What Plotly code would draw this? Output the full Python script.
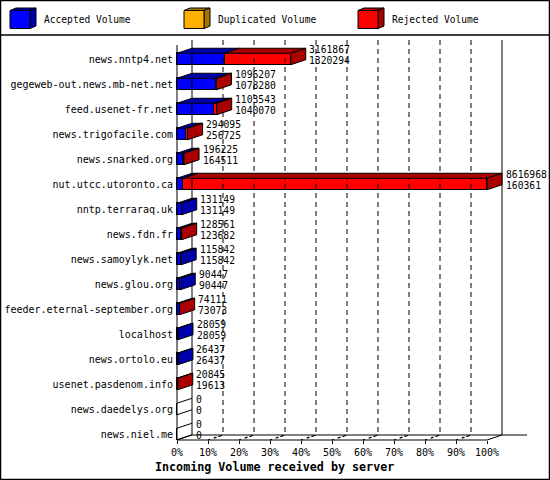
import plotly.graph_objects as go

# ---------------- data ----------------
servers = ["news.nntp4.net", "gegeweb-out.news.mb-net.net", "feed.usenet-fr.net",
           "news.trigofacile.com", "news.snarked.org", "nut.utcc.utoronto.ca",
           "nntp.terraraq.uk", "news.fdn.fr", "news.samoylyk.net", "news.glou.org",
           "feeder.eternal-september.org", "localhost", "news.ortolo.eu",
           "usenet.pasdenom.info", "news.daedelys.org", "news.niel.me"]
total_volume = [3161867, 1096207, 1103543, 294095, 196225, 8616968, 131149, 128561,
                115842, 90447, 74111, 28059, 26437, 20845, 0, 0]
accepted_volume = [1320294, 1078280, 1040070, 256725, 164511, 160361, 131149, 123682,
                   115842, 90447, 73073, 28059, 26437, 19613, 0, 0]
duplicated_volume = [0] * 16
rejected_volume = [t - a - d for t, a, d in zip(total_volume, accepted_volume, duplicated_volume)]
tick_labels = ["0%", "10%", "20%", "30%", "40%", "50%", "60%", "70%", "80%", "90%", "100%"]
series_names = ["Accepted Volume", "Duplicated Volume", "Rejected Volume"]

# ---------------- style / geometry ----------------
W, HGT = 550, 480
FONT = "DejaVu Sans Mono"
FRONT = ["#0000FF", "#FFAF00", "#FF0000"]
DARK = ["#0000AA", "#AA7400", "#AA0000"]

MAXV = max(total_volume)
PX0, PXW = 177, 310          # front zero pixel, pixel width of 100 %
U = MAXV / PXW               # value per pixel
ROW0, ROWH = 59, 25          # first row centre pixel, row pitch
DX = 15 * U                  # 3-D depth in value units
DY = -5 / ROWH               # 3-D depth in row units
H = 5.75 / ROWH              # half bar height


def py(p):
    return (p - ROW0) / ROWH


n = len(servers)
idx = list(range(n))

fig = go.Figure()

# ---- axis frame lines (behind bars) ----
grid_x, grid_y = [], []
floor_x, floor_y = [], []
for k in range(1, 10):
    v = k / 10 * MAXV
    grid_x += [v + DX, v + DX, None]
    grid_y += [py(40), py(435), None]
    floor_x += [v, v + DX, None]
    floor_y += [py(440), py(435), None]
fig.add_trace(go.Scatter(x=grid_x, y=grid_y, mode="lines", hoverinfo="skip",
                         line=dict(color="black", width=1, dash="5px,4px")))
fig.add_trace(go.Scatter(x=floor_x, y=floor_y, mode="lines", hoverinfo="skip",
                         line=dict(color="black", width=1.3, dash="2px,4px,3px")))

fx = [0, 0, None, DX, DX, None, MAXV + DX, MAXV + DX, None,
      0, MAXV, MAXV + DX, None, 0, DX, MAXV + DX + 25 * U]
fy = [py(45), py(440), None, py(40), py(435), None, py(40), py(435), None,
      py(440), py(440), py(435), None, py(440), py(435), py(435)]
fig.add_trace(go.Scatter(x=fx, y=fy, mode="lines", hoverinfo="skip",
                         line=dict(color="black", width=1)))

# ---- front faces ----
for s, vals in enumerate([accepted_volume, duplicated_volume, rejected_volume]):
    fig.add_trace(go.Bar(x=vals, y=idx, orientation="h", width=2 * H,
                         marker=dict(color=FRONT[s], line=dict(color="black", width=1)),
                         name=series_names[s], hoverinfo="skip"))

# ---- top faces ----
segs = [accepted_volume, duplicated_volume, rejected_volume]
for s in range(3):
    xs, ys = [], []
    for i in range(n):
        x0 = sum(segs[j][i] for j in range(s))
        x1 = x0 + segs[s][i]
        if segs[s][i] <= 0:
            continue
        yt = i - H
        xs += [x0, x1, x1 + DX, x0 + DX, x0, None]
        ys += [yt, yt, yt + DY, yt + DY, yt, None]
    fig.add_trace(go.Scatter(x=xs, y=ys, mode="lines", fill="toself", fillcolor=DARK[s],
                             line=dict(color="black", width=1), hoverinfo="skip"))

# ---- side faces ----
for s in range(3):
    xs, ys = [], []
    for i in range(n):
        last = None
        for j in range(3):
            if segs[j][i] > 0:
                last = j
        if last != s:
            continue
        x1 = total_volume[i]
        xs += [x1, x1 + DX, x1 + DX, x1, x1, None]
        ys += [i - H, i - H + DY, i + H + DY, i + H, i - H, None]
    fig.add_trace(go.Scatter(x=xs, y=ys, mode="lines", fill="toself", fillcolor=DARK[s],
                             line=dict(color="black", width=1), hoverinfo="skip"))

# zero-volume rows: outline only
zx, zy = [], []
for i in range(n):
    if total_volume[i] == 0:
        zx += [0, DX, None, 0, DX, None]
        zy += [i - H, i - H + DY, None, i + H, i + H + DY, None]
fig.add_trace(go.Scatter(x=zx, y=zy, mode="lines", line=dict(color="black", width=1),
                         hoverinfo="skip"))

# ---- value labels ----
annotations = []
for i in range(n):
    for val, off in ((total_volume[i], -9.5), (accepted_volume[i], 1.5)):
        annotations.append(dict(x=total_volume[i] + 17.5 * U, y=i + off / ROWH,
                                xref="x", yref="y", text=str(val), showarrow=False,
                                xanchor="left", yanchor="middle", borderpad=0,
                                font=dict(family=FONT, size=9.7, color="black")))

# ---- legend (3-D cubes) ----
shapes = []


def path(pts):
    return "M " + " L ".join(f"{x / W},{1 - y / HGT}" for x, y in pts) + " Z"


leg_x = [10, 184, 358]
for s in range(3):
    x0 = leg_x[s]
    x1 = x0 + 20
    y0, y1 = 10.5, 28.5
    shapes.append(dict(type="path", xref="paper", yref="paper",
                       path=path([(x0, y0), (x0 + 6, y0 - 2.5), (x1 + 6, y0 - 2.5), (x1, y0)]),
                       fillcolor=DARK[s], line=dict(color="black", width=1)))
    shapes.append(dict(type="path", xref="paper", yref="paper",
                       path=path([(x1, y0), (x1 + 6, y0 - 2.5), (x1 + 6, y1 - 2.5), (x1, y1)]),
                       fillcolor=DARK[s], line=dict(color="black", width=1)))
    shapes.append(dict(type="path", xref="paper", yref="paper",
                       path=path([(x0, y0), (x1, y0), (x1, y1), (x0, y1)]),
                       fillcolor=FRONT[s], line=dict(color="black", width=1)))
    annotations.append(dict(x=(x0 + 32) / W, y=1 - 20 / HGT, xref="paper", yref="paper",
                            text=series_names[s], showarrow=False, xanchor="left",
                            yanchor="middle", font=dict(family=FONT, size=9.6, color="black")))

# frame
shapes.append(dict(type="rect", xref="paper", yref="paper", x0=0.5 / W, x1=549.5 / W,
                   y0=1 - 479.5 / HGT, y1=1 - 0.5 / HGT, line=dict(color="black", width=1.5)))
shapes.append(dict(type="line", xref="paper", yref="paper", x0=0, x1=1,
                   y0=1 - 35 / HGT, y1=1 - 35 / HGT, line=dict(color="black", width=1.5)))

annotations.append(dict(x=274.5 / W, y=1 - 467 / HGT, xref="paper", yref="paper",
                        text="<b>Incoming Volume received by server</b>", showarrow=False,
                        xanchor="center", yanchor="middle",
                        font=dict(family=FONT, size=11.7, color="black")))

fig.update_layout(
    width=W, height=HGT, margin=dict(l=0, r=0, t=0, b=0),
    paper_bgcolor="white", plot_bgcolor="white", showlegend=False, barmode="stack",
    bargap=0, hovermode=False,
    xaxis=dict(range=[-PX0 * U, (W - PX0) * U], anchor="free", position=(HGT - 440) / HGT,
               tickvals=[k / 10 * MAXV for k in range(11)], ticktext=tick_labels,
               ticks="outside", ticklen=3, tickcolor="black", tickwidth=1,
               showgrid=False, zeroline=False, showline=False, automargin=False,
               fixedrange=True, tickfont=dict(family=FONT, size=10, color="black")),
    yaxis=dict(range=[py(HGT), py(0)], anchor="free", position=PX0 / W,
               tickvals=idx, ticktext=servers, ticks="outside", ticklen=2,
               tickcolor="rgba(0,0,0,0)", showgrid=False, zeroline=False, showline=False,
               automargin=False, fixedrange=True,
               tickfont=dict(family=FONT, size=10, color="black")),
    shapes=shapes, annotations=annotations,
)

fig.write_html("out.html", config={"displayModeBar": False},
               post_script="document.body.style.margin='0';document.body.style.padding='0';")
